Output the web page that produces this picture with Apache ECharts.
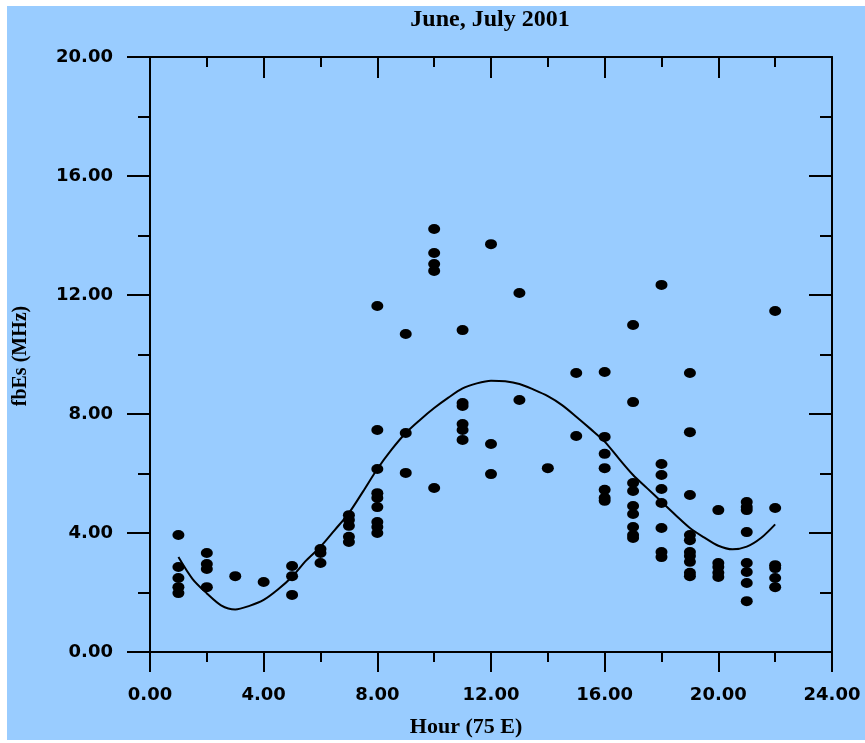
<!DOCTYPE html>
<html>
<head>
<meta charset="utf-8">
<script src="https://cdn.jsdelivr.net/npm/echarts@6/dist/echarts.min.js"></script>
<style>
  html, body { margin: 0; padding: 0; background: #fff; }
  #main { position: absolute; left: 7px; top: 6px; width: 858px; height: 734px; background: #99ccff; }
</style>
</head>
<body>
<div id="main"></div>
<script>
// 观测点：小时 + fbEs 值（按小时分组读出）
const obsHours = [
  1, 1, 1, 1, 1,
  2, 2, 2, 2,
  3, 4,
  5, 5, 5,
  6, 6, 6,
  7, 7, 7, 7, 7,
  8, 8, 8, 8, 8, 8, 8, 8, 8,
  9, 9, 9,
  10, 10, 10, 10, 10,
  11, 11, 11, 11, 11, 11,
  12, 12, 12,
  13, 13,
  14,
  15, 15,
  16, 16, 16, 16, 16, 16, 16,
  17, 17, 17, 17, 17, 17, 17, 17, 17,
  18, 18, 18, 18, 18, 18, 18, 18,
  19, 19, 19, 19, 19, 19, 19, 19, 19, 19,
  20, 20, 20, 20, 20,
  21, 21, 21, 21, 21, 21, 21, 21,
  22, 22, 22, 22, 22, 22
]
const obsValues = [
  3.93, 2.86, 2.49, 2.18, 1.98,
  3.33, 2.96, 2.79, 2.18,
  2.55, 2.35,
  2.89, 2.55, 1.92,
  3.46, 3.33, 2.99,
  4.60, 4.44, 4.24, 3.87, 3.70,
  11.63, 7.46, 6.15, 5.34, 5.18, 4.87, 4.37, 4.20, 4.00,
  10.69, 7.36, 6.02,
  14.22, 13.41, 13.04, 12.81, 5.51,
  10.82, 8.37, 8.27, 7.66, 7.46, 7.13,
  13.71, 6.99, 5.98,
  12.07, 8.47,
  6.18,
  9.38, 7.26,
  9.41, 7.23, 6.66, 6.18, 5.45, 5.18, 5.08,
  10.99, 8.40, 5.68, 5.41, 4.91, 4.64, 4.20, 3.93, 3.83,
  12.34, 6.32, 5.95, 5.48, 5.01, 4.17, 3.36, 3.19,
  9.38, 7.39, 5.28, 3.93, 3.76, 3.36, 3.23, 3.03, 2.66, 2.55,
  4.77, 2.99, 2.86, 2.66, 2.52,
  5.04, 4.87, 4.77, 4.03, 2.99, 2.69, 2.32, 1.71,
  11.46, 4.84, 2.92, 2.82, 2.49, 2.18
]

// 拟合曲线（每半小时读一次）
const curveHours = [
  1, 1.5, 2, 2.5, 3, 3.5, 4, 4.5, 5, 5.5, 6, 6.5, 7, 7.5, 8, 8.5, 9, 9.5, 10, 10.5, 11,
  11.5, 12, 12.5, 13, 13.5, 14, 14.5, 15, 15.5, 16, 16.5, 17, 17.5, 18, 18.5, 19, 19.5,
  20, 20.5, 21, 21.5, 22
]
const curveValues = [
  3.19, 2.45, 1.97, 1.57, 1.43, 1.55, 1.75, 2.10, 2.53, 3.08, 3.54, 4.10, 4.67, 5.40, 6.15, 6.80, 7.36, 7.80, 8.20, 8.55, 8.86,
  9.03, 9.12, 9.10, 9.01, 8.82, 8.60, 8.30, 7.91, 7.50, 7.07, 6.50, 5.95, 5.50, 5.05, 4.60, 4.17, 3.85,
  3.57, 3.45, 3.54, 3.83, 4.29
]

const chartTitle = 'June, July 2001'
const xName = 'Hour (75 E)'
const yName = 'fbEs (MHz)'

;(function () {
  let myChart = echarts.init(document.getElementById('main'))

  let labelStyle = {
    color: '#000',
    fontFamily: 'DejaVu Sans',
    fontWeight: 'bold',
    fontSize: 18
  }
  let lineBlack = { color: '#000', width: 2 }

  // 四条轴共用的刻度样式，inside 决定朝内还是朝外
  function axisParts (inside, len, minorLen) {
    return {
      axisLine: { show: true, onZero: false, lineStyle: lineBlack },
      axisTick: { show: true, inside: inside, length: len, lineStyle: lineBlack },
      minorTick: { show: true, splitNumber: 2, length: minorLen, lineStyle: lineBlack },
      splitLine: { show: false }
    }
  }

  let option = {
    animation: false,
    grid: { left: 143, top: 51, right: 33, bottom: 88 },
    graphic: [
      {
        type: 'text', x: 483, y: 14,
        style: {
          text: chartTitle, fill: '#000', align: 'center', verticalAlign: 'middle',
          font: 'bold 24px "Liberation Serif"'
        }
      },
      {
        type: 'text', x: 459, y: 721,
        style: {
          text: xName, fill: '#000', align: 'center', verticalAlign: 'middle',
          font: 'bold 22px "Liberation Serif"'
        }
      },
      {
        type: 'text', x: 14, y: 350, rotation: Math.PI / 2,
        style: {
          text: yName, fill: '#000', align: 'center', verticalAlign: 'middle',
          font: 'bold 20px "Liberation Serif"'
        }
      }
    ],
    xAxis: [
      Object.assign({
        type: 'value', position: 'bottom', min: 0, max: 24, interval: 4,
        axisLabel: Object.assign({ margin: 34, formatter: v => v.toFixed(2) }, labelStyle)
      }, axisParts(false, 20, 10)),
      Object.assign({
        type: 'value', position: 'top', min: 0, max: 24, interval: 4,
        axisLabel: { show: false }
      }, axisParts(true, 21, 10))
    ],
    yAxis: [
      Object.assign({
        type: 'value', position: 'left', min: 0, max: 20, interval: 4,
        axisLabel: Object.assign({ margin: 37, formatter: v => v.toFixed(2) }, labelStyle)
      }, axisParts(false, 23, 12)),
      Object.assign({
        type: 'value', position: 'right', min: 0, max: 20, interval: 4,
        axisLabel: { show: false }
      }, axisParts(true, 23, 12))
    ],
    series: [
      {
        name: 'obs',
        type: 'scatter',
        symbol: 'circle',
        symbolSize: [12, 10],
        itemStyle: { color: '#000', opacity: 1 },
        data: obsHours.map((h, i) => [h, obsValues[i]])
      },
      {
        name: 'fit',
        type: 'line',
        smooth: 0.3,
        showSymbol: false,
        lineStyle: { color: '#000', width: 2 },
        data: curveHours.map((h, i) => [h, curveValues[i]])
      }
    ]
  }

  myChart.setOption(option)
})();
</script>
</body>
</html>
